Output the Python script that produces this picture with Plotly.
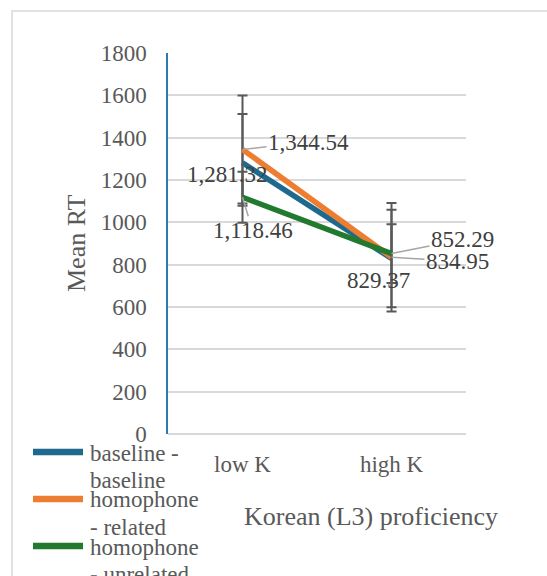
import plotly.graph_objects as go

# ---- data ----
categories = ["low K", "high K"]
series_names = ["baseline - baseline", "homophone - related", "homophone - unrelated"]
legend_lines = [["baseline -", "baseline"], ["homophone", "- related"], ["homophone", "- unrelated"]]
baseline = [1281.32, 829.37]
related = [1344.54, 834.95]
unrelated = [1118.46, 852.29]
baseline_err_plus = [230, 230]
baseline_err_minus = [203, 230]
related_err = [255, 256]
unrelated_err = [121, 139]
y_ticks = [0, 200, 400, 600, 800, 1000, 1200, 1400, 1600, 1800]

series = [baseline, related, unrelated]
errors_plus = [baseline_err_plus, related_err, unrelated_err]
errors_minus = [baseline_err_minus, related_err, unrelated_err]
colors = ["#1e6a8f", "#ed7d31", "#217a2e"]

# ---- layout geometry (pixels) ----
W, H = 547, 576
L, R, T, B = 168, 81, 53, 142
PW, PH = W - L - R, H - T - B

def px(x):
    return (x - L) / PW

def py(y):
    return (H - B - y) / PH

FONT = "Liberation Serif, Times New Roman, serif"
GRAY = "#595959"
LABEL = "#404040"
FS = 23

fig = go.Figure()
for name, vals, ep, em, c in zip(series_names, series, errors_plus, errors_minus, colors):
    fig.add_trace(go.Scatter(
        x=categories, y=vals, name=name, mode="lines",
        line=dict(color=c, width=5.5),
        error_y=dict(type="data", array=ep, arrayminus=em, symmetric=False, visible=True,
                     color=GRAY, thickness=2, width=5),
        showlegend=False, hoverinfo="x+y+name",
    ))

# data labels (offsets in pixels)
label_specs = [
    # (series, idx, text, dx, dy, leader)
    (baseline, 0, "1,281.32", -15, 12, False),
    (related, 0, "1,344.54", 66, -7, True),
    (unrelated, 0, "1,118.46", 10, 33, True),
    (baseline, 1, "829.37", -13, 22, False),
    (related, 1, "834.95", 66, 4, True),
    (unrelated, 1, "852.29", 71, -14, True),
]
anns = []
for vals, i, txt, dx, dy, leader in label_specs:
    if leader:
        anns.append(dict(x=categories[i], y=vals[i], xref="x", yref="y", text=txt,
                         showarrow=True, arrowhead=0, arrowwidth=1.5, arrowcolor="#a6a6a6",
                         ax=dx, ay=dy, standoff=0,
                         font=dict(family=FONT, size=FS, color=LABEL)))
    else:
        anns.append(dict(x=categories[i], y=vals[i], xref="x", yref="y", text=txt,
                         showarrow=False, xshift=dx, yshift=-dy,
                         font=dict(family=FONT, size=FS, color=LABEL)))

# axis titles
anns.append(dict(x=px(371), y=py(516), xref="paper", yref="paper", text="Korean (L3) proficiency",
                 showarrow=False, xanchor="center", yanchor="middle",
                 font=dict(family=FONT, size=26, color=GRAY)))
anns.append(dict(x=px(77), y=py(244), xref="paper", yref="paper", text="Mean RT",
                 showarrow=False, xanchor="center", yanchor="middle", textangle=-90,
                 font=dict(family=FONT, size=26, color=GRAY)))

# manual legend
shapes = []
legend_y0 = 452
legend_step = 47
for k, (lines, c) in enumerate(zip(legend_lines, colors)):
    yy = legend_y0 + k * legend_step
    shapes.append(dict(type="line", xref="paper", yref="paper",
                       x0=px(33), x1=px(83), y0=py(yy), y1=py(yy),
                       line=dict(color=c, width=6.5)))
    for j, ln in enumerate(lines):
        anns.append(dict(x=px(88), y=py(yy + 1 + j * 27), xref="paper", yref="paper", text=ln,
                         showarrow=False, xanchor="left", yanchor="middle",
                         font=dict(family=FONT, size=FS, color=GRAY)))

# outer border
shapes.append(dict(type="rect", xref="paper", yref="paper",
                   x0=px(12), x1=px(W + 20), y0=py(11), y1=py(H + 20),
                   line=dict(color="#d9d9d9", width=1.5), fillcolor="rgba(0,0,0,0)", layer="below"))

fig.update_layout(
    width=W, height=H,
    margin=dict(l=L, r=R, t=T, b=B, pad=0),
    paper_bgcolor="white", plot_bgcolor="white",
    font=dict(family=FONT, color=GRAY),
    xaxis=dict(type="category", range=[-0.5, 1.5], showgrid=False, zeroline=False,
               showline=False, ticks="", tickfont=dict(family=FONT, size=FS, color=GRAY),
               ticklabelstandoff=14),
    yaxis=dict(range=[0, 1800], tickvals=y_ticks, ticktext=[str(v) for v in y_ticks],
               showgrid=True, gridcolor="#d9d9d9", gridwidth=1.5,
               zeroline=True, zerolinecolor="#d9d9d9", zerolinewidth=1.5,
               showline=True, linecolor="#2b7bb0", linewidth=1.5,
               ticks="", tickfont=dict(family=FONT, size=FS, color=GRAY),
               ticklabelstandoff=15),
    annotations=anns,
    shapes=shapes,
    showlegend=False,
)

fig.write_html("out.html", config={"displayModeBar": False},
               post_script="document.body.style.margin='0';document.body.style.overflow='hidden';")
